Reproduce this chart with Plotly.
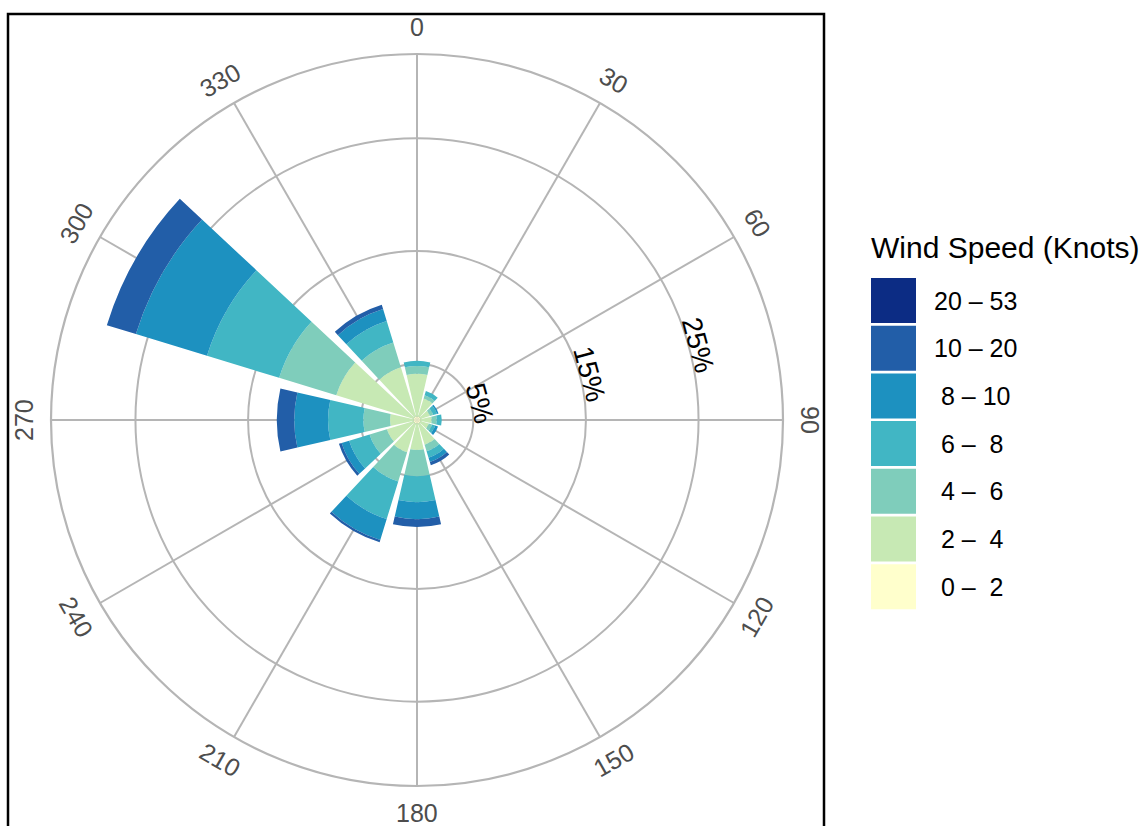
import math
import plotly.graph_objects as go

# Wind directions (degrees, bin centres)
directions = [0, 30, 60, 90, 120, 150, 180, 210, 240, 270, 300, 330]

# Speed classes (knots) and their legend labels
speed_bins = ["0 - 2", "2 - 4", "4 - 6", "6 - 8", "8 - 10", "10 - 20", "20 - 53"]
legend_labels = ["\u00a00 \u2013 \u00a02", "\u00a02 \u2013 \u00a04", "\u00a04 \u2013 \u00a06",
                 "\u00a06 \u2013 \u00a08", "\u00a08 \u2013 10", "10 \u2013 20", "20 \u2013 53"]
speed_colors = ["#FFFFCC", "#C7E9B4", "#7FCDBB", "#41B6C4", "#1D91C0", "#225EA8", "#0C2C84"]

# Frequency (%) of each speed class per direction
freq_0_2 = [0.3, 0.3, 0.3, 0.3, 0.3, 0.3, 0.3, 0.3, 0.3, 0.3, 0.3, 0.3]
freq_2_4 = [3.8, 1.7, 0.9, 1.0, 0.8, 2.0, 2.36, 2.7, 2.5, 2.1, 7.2, 4.6]
freq_4_6 = [0.7, 0.3, 0.3, 0.45, 0.3, 0.6, 2.34, 2.7, 1.6, 2.36, 5.3, 2.3]
freq_6_8 = [0.45, 0.4, 0.35, 0.45, 0.3, 0.6, 2.3, 3.5, 1.9, 3.14, 6.7, 2.0]
freq_8_10 = [0.0, 0.0, 0.15, 0.0, 0.25, 0.4, 1.5, 1.95, 0.7, 3.0, 6.6, 1.1]
freq_10_20 = [0.0, 0.0, 0.0, 0.0, 0.0, 0.3, 0.7, 0.2, 0.25, 1.55, 2.7, 0.4]
freq_20_53 = [0.0, 0.0, 0.0, 0.0, 0.0, 0.0, 0.0, 0.0, 0.0, 0.0, 0.0, 0.0]
frequencies = [freq_0_2, freq_2_4, freq_4_6, freq_6_8, freq_8_10, freq_10_20, freq_20_53]

# Radial gridlines / labels
radial_ticks = [5, 15, 25]
radial_tick_text = ["5%", "15%", "25%"]
radial_max = 32.5
label_angle = 75

W, H = 1143, 826
FONT = "Liberation Sans, Arial, Helvetica, sans-serif"
GRID = "#B5B5B5"

dom_x = [51 / W, 783 / W]
dom_y = [1 - 786 / H, 1 - 54 / H]

fig = go.Figure()
for name, vals, col in zip(speed_bins, frequencies, speed_colors):
    fig.add_trace(go.Barpolar(
        r=vals, theta=directions, width=[26] * len(directions),
        name=name, marker=dict(color=col, line=dict(width=0)),
        showlegend=False,
    ))

fig.update_layout(
    width=W, height=H,
    margin=dict(l=0, r=0, t=0, b=0),
    paper_bgcolor="white",
    polar=dict(
        domain=dict(x=dom_x, y=dom_y),
        bgcolor="white",
        barmode="stack",
        radialaxis=dict(range=[0, radial_max], tickvals=radial_ticks, showticklabels=False,
                        ticks="", showline=False, gridcolor=GRID, gridwidth=2.2,
                        layer="below traces"),
        angularaxis=dict(direction="clockwise", rotation=90, tickvals=directions,
                         showticklabels=False, ticks="", gridcolor=GRID, gridwidth=2.2,
                         showline=True, linecolor=GRID, linewidth=2.2,
                         layer="below traces"),
    ),
)

# Geometry of the polar area in pixels
cx = (dom_x[0] + dom_x[1]) / 2 * W
cy = (1 - (dom_y[0] + dom_y[1]) / 2) * H
R = min((dom_x[1] - dom_x[0]) * W, (dom_y[1] - dom_y[0]) * H) / 2


def to_paper(r_px, ang):
    a = math.radians(ang)
    x = cx + r_px * math.sin(a)
    y = cy - r_px * math.cos(a)
    return x / W, 1 - y / H


annotations = []
# Compass labels, rotated to follow the circle
for d in directions:
    px, py = to_paper(R + 27, d)
    if d <= 90:
        ta = d
    elif d < 270:
        ta = d - 180
    else:
        ta = d - 360
    annotations.append(dict(x=px, y=py, xref="paper", yref="paper", text=str(d),
                            showarrow=False, textangle=ta, xanchor="center", yanchor="middle",
                            font=dict(family=FONT, size=25, color="#4D4D4D")))

# Percentage labels along a single bearing
for v, t in zip(radial_ticks, radial_tick_text):
    px, py = to_paper(v / radial_max * R + 9, label_angle)
    annotations.append(dict(x=px, y=py, xref="paper", yref="paper", text=t,
                            showarrow=False, textangle=label_angle, xanchor="center",
                            yanchor="middle", font=dict(family=FONT, size=28, color="black")))

# Legend
annotations.append(dict(x=869 / W, y=1 - 247 / H, xref="paper", yref="paper",
                        text="Wind Speed (Knots)", showarrow=False, xanchor="left",
                        yanchor="middle", font=dict(family=FONT, size=30, color="black")))
shapes = []
sw_top, sw_step, sw_h = 278, 47.7, 45
for i, (lab, col) in enumerate(zip(legend_labels[::-1], speed_colors[::-1])):
    y0 = sw_top + i * sw_step
    shapes.append(dict(type="rect", xref="paper", yref="paper",
                       x0=871 / W, x1=916 / W, y0=1 - (y0 + sw_h) / H, y1=1 - y0 / H,
                       fillcolor=col, line=dict(width=0)))
    annotations.append(dict(x=932 / W, y=1 - (y0 + sw_h / 2) / H, xref="paper", yref="paper",
                            text=lab, showarrow=False, xanchor="left", yanchor="middle",
                            font=dict(family=FONT, size=25, color="black")))

# Panel frame
shapes.append(dict(type="rect", xref="paper", yref="paper",
                   x0=8 / W, x1=824 / W, y0=-0.05, y1=1 - 14 / H,
                   line=dict(color="black", width=2.5), fillcolor="rgba(0,0,0,0)"))

fig.update_layout(annotations=annotations, shapes=shapes)
fig.write_html("out.html")
